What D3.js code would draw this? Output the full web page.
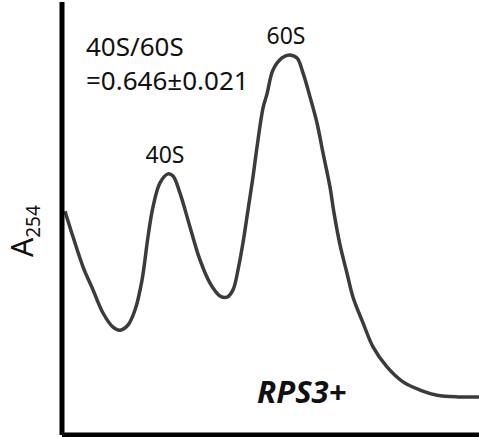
<!DOCTYPE html>
<html>
<head>
<meta charset="utf-8">
<script src="https://cdn.jsdelivr.net/npm/d3@7"></script>
<style>
  body { margin: 0; background: #fff; }
  svg { display: block; }
  text { font-family: "Noto Sans", "Open Sans", sans-serif; fill: #111; }
</style>
</head>
<body>
<script>
//Profile data: elution position (0-100) and A254 (arbitrary units).
const position = [0.24, 2.17, 4.58, 6.99, 9.40, 11.81, 13.49, 15.42, 17.11, 18.80, 20.24, 21.45, 23.13, 25.06, 26.27,
    27.95, 30.36, 32.77, 35.18, 37.59, 39.28, 40.72, 41.93, 43.13, 44.34, 45.54, 46.51, 47.95, 48.92,
    50.36, 52.53, 54.22, 56.14, 57.59, 59.28, 60.96, 62.41, 64.10, 65.06, 66.51, 68.19, 69.64, 72.05, 74.46,
    77.83, 81.69, 85.78, 89.88, 94.94, 100];
const absorbance = [0.516, 0.456, 0.386, 0.332, 0.278, 0.245, 0.238, 0.250, 0.285, 0.355, 0.456, 0.526, 0.582, 0.603, 0.598,
    0.558, 0.479, 0.402, 0.348, 0.318, 0.315, 0.332, 0.379, 0.442, 0.519, 0.596, 0.666, 0.757, 0.790,
    0.846, 0.874, 0.881, 0.874, 0.839, 0.783, 0.722, 0.652, 0.572, 0.512, 0.437, 0.371, 0.315, 0.255, 0.199,
    0.152, 0.117, 0.098, 0.086, 0.082, 0.082];

//Peak labels and annotation text.
const peakLabels = [{text: "40S", pos: 25.06, abs: 0.603}, {text: "60S", pos: 54.22, abs: 0.881}];
const ratioLines = ["40S/60S", "=0.646\u00b10.021"];
const sampleName = "RPS3+";

const width = 479;
const height = 437;

const svg = d3.select("body").append("svg").attr("width", width).attr("height", height);

const xScale = d3.scaleLinear().domain([0, 100]).range([64, 479]);
const yScale = d3.scaleLinear().domain([0, 1]).range([432, 4]);

//The trace.
const line = d3.line()
    .x((d, i) => xScale(position[i]))
    .y((d, i) => yScale(absorbance[i]))
    .curve(d3.curveCatmullRom.alpha(0.5));

svg.append("path")
    .datum(position)
    .attr("d", line)
    .attr("fill", "none")
    .attr("stroke", "#3b3b3b")
    .attr("stroke-width", 3.5)
    .attr("stroke-linejoin", "round");

//Axes: plain thick lines, no ticks.
const yAxis = d3.axisLeft(yScale).tickValues([]).tickSizeOuter(0);
const xAxis = d3.axisBottom(xScale).tickValues([]).tickSizeOuter(0);

svg.append("g")
    .attr("transform", "translate(61.5,0)")
    .call(yAxis)
    .select(".domain")
    .attr("stroke", "#000")
    .attr("stroke-width", 5)
    .attr("stroke-linecap", "square");

svg.append("g")
    .attr("transform", "translate(0,434.5)")
    .call(xAxis)
    .select(".domain")
    .attr("stroke", "#000")
    .attr("stroke-width", 5)
    .attr("stroke-linecap", "square");

//Peak labels above each peak.
svg.selectAll(".peak")
    .data(peakLabels)
    .enter()
    .append("text")
    .attr("class", "peak")
    .attr("x", (d) => xScale(d.pos) - 3)
    .attr("y", (d) => yScale(d.abs) - 11)
    .attr("text-anchor", "middle")
    .attr("font-size", 23)
    .text((d) => d.text);

//Ratio annotation.
svg.selectAll(".ratio")
    .data(ratioLines)
    .enter()
    .append("text")
    .attr("class", "ratio")
    .attr("x", 86)
    .attr("y", (d, i) => 56 + i * 34)
    .attr("font-size", 26)
    .text((d) => d);

//Sample name.
svg.append("text")
    .attr("x", 257)
    .attr("y", 403)
    .attr("font-size", 31)
    .attr("font-weight", "bold")
    .attr("font-style", "italic")
    .text(sampleName);

//Y axis title A254.
const yTitle = svg.append("text")
    .attr("transform", "translate(33,257) rotate(-90)")
    .attr("font-size", 30);
yTitle.append("tspan").text("A");
yTitle.append("tspan").attr("dy", 7).attr("font-size", 19).text("254");
</script>
</body>
</html>
